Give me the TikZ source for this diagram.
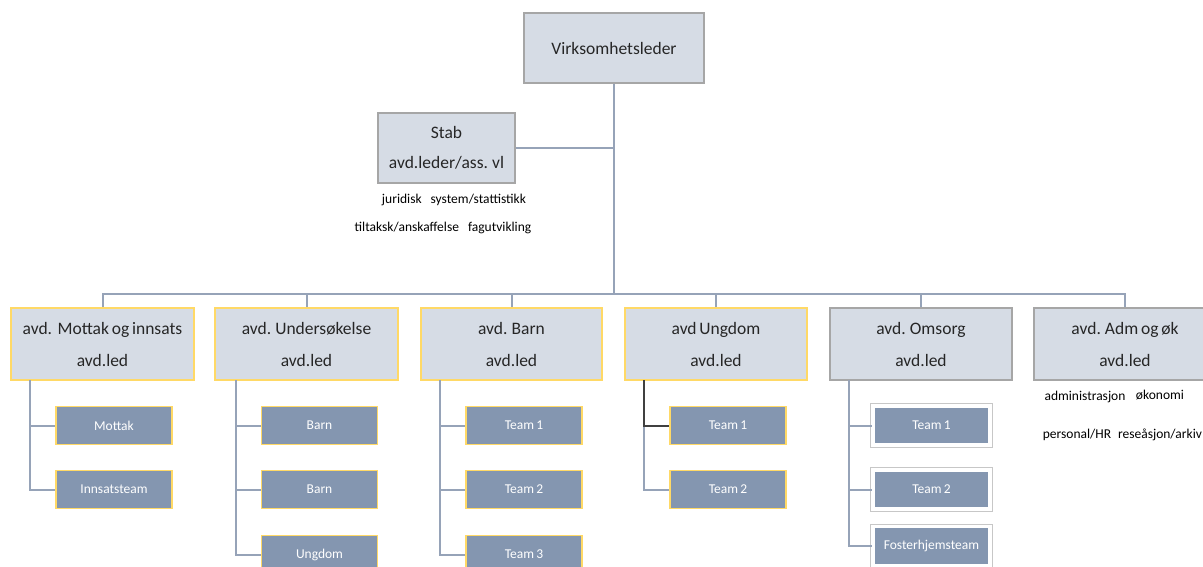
\documentclass[tikz,border=0pt]{standalone}
\usepackage{fontspec}
\setmainfont{Carlito}[WordSpace=0.7]
\definecolor{boxfill}{RGB}{214,220,229}
\definecolor{boxgray}{RGB}{166,166,166}
\definecolor{gold}{RGB}{255,217,102}
\definecolor{slate}{RGB}{132,150,176}
\definecolor{conn}{RGB}{150,163,184}
\definecolor{txt}{RGB}{38,38,38}
\begin{document}
\begin{tikzpicture}[x=1pt,y=-1pt,
  topbox/.style={draw=boxgray, line width=1.2pt, fill=boxfill, text=txt, inner sep=0pt, align=center, font=\fontsize{17.5}{30}\selectfont},
  deptbox/.style={draw=gold, line width=1.8pt, fill=boxfill, text=txt, inner sep=0pt, align=center, minimum height=72pt, font=\fontsize{17.5}{32}\selectfont},
  deptgray/.style={deptbox, draw=boxgray, line width=1.2pt},
  teambox/.style={draw=gold, line width=1.8pt, fill=slate, text=white, inner sep=0pt, minimum width=116pt, minimum height=38pt, font=\fontsize{13.5}{15}\selectfont},
  teamwhite/.style={teambox, draw=white, line width=2.4pt},
  note/.style={text=black, inner sep=0pt, font=\fontsize{13.5}{15}\selectfont},
  link/.style={draw=conn, line width=2pt}
]
\useasboundingbox (0,0) rectangle (1203,567);

% top level
\node[topbox, minimum width=180pt, minimum height=70pt] (vl) at (614,48) {Virksomhetsleder};
\node[topbox, minimum width=137pt, minimum height=70pt] (stab) at (446.5,148) {Stab\\avd.leder/ass. vl};
\node[note] (stabn1) at (454,200) {juridisk\hspace{9pt}system/stattistikk};
\node[note] (stabn2) at (443,228) {tiltaksk/anskaffelse\hspace{9pt}fagutvikling};

% departments
\node[deptbox, minimum width=183pt] (m1) at (102.5,344) {avd.\ \ Mottak og innsats\\avd.led};
\node[deptbox, minimum width=183pt] (m2) at (306.5,344) {avd. Undersøkelse\\avd.led};
\node[deptbox, minimum width=181pt] (m3) at (511.5,344) {avd. Barn\\avd.led};
\node[deptbox, minimum width=182pt] (m4) at (716,344) {avd Ungdom\\avd.led};
\node[deptgray, minimum width=182pt] (m5) at (921,344) {avd. Omsorg\\avd.led};
\node[deptgray, minimum width=182pt] (m6) at (1125,344) {avd. Adm og øk\\avd.led};

\node[note] (admn1) at (1085,397) {administrasjon};
\node[note] (admn2) at (1160,395) {økonomi};
\node[note] (admn3) at (1077,435) {personal/HR};
\node[note] (admn4) at (1160,435) {reseåsjon/arkiv};

% teams
\node[teambox] (c11) at (114,425.5) {Mottak};
\node[teambox] (c12) at (114,489.5) {Innsatsteam};
\node[teambox] (c21) at (319.5,425.5) {Barn};
\node[teambox] (c22) at (319.5,489.5) {Barn};
\node[teambox] (c23) at (319.5,554.5) {Ungdom};
\node[teambox] (c31) at (524,425.5) {Team 1};
\node[teambox] (c32) at (524,489.5) {Team 2};
\node[teambox] (c33) at (524,554.5) {Team 3};
\node[teambox] (c41) at (728,425.5) {Team 1};
\node[teambox] (c42) at (728,489.5) {Team 2};
\node[teamwhite] (c51) at (931.5,425.5) {Team 1};
\node[teamwhite] (c52) at (931.5,489.5) {Team 2};
\node[teamwhite] (c53) at (931.5,546) {Fosterhjemsteam};
\foreach \n in {c51,c52,c53}{
  \draw[black!22, line width=0.6pt] ([xshift=-1.6pt,yshift=-1.6pt]\n.south west) rectangle ([xshift=1.6pt,yshift=1.6pt]\n.north east);
}

% connectors
\coordinate (bar) at (614,294);
\draw[link] (vl.south) -- (bar);
\draw[link] (stab.east) -- (stab.east -| vl.south);
\draw[link] (m1.north) -- (m1.north |- bar) -- (m6.north |- bar) -- (m6.north);
\foreach \m in {m2,m3,m4,m5}{
  \draw[link] (\m.north) -- (\m.north |- bar);
}

\coordinate (sp1) at (30,380);
\coordinate (sp2) at (236,380);
\coordinate (sp3) at (440,380);
\coordinate (sp4) at (644,380);
\coordinate (sp5) at (849,380);

\draw[link] (sp1) |- (c12.west);
\draw[link] (sp1 |- c11.west) -- (c11.west);
\draw[link] (sp2) |- (c23.west);
\draw[link] (sp2 |- c21.west) -- (c21.west);
\draw[link] (sp2 |- c22.west) -- (c22.west);
\draw[link] (sp3) |- (c33.west);
\draw[link] (sp3 |- c31.west) -- (c31.west);
\draw[link] (sp3 |- c32.west) -- (c32.west);
\draw[link] (sp4) |- (c42.west);
\draw[link, draw=black!75] (sp4) -- (sp4 |- c41.west) -- (c41.west);
\draw[link] (sp5) |- (c53.west);
\draw[link] (sp5 |- c51.west) -- (c51.west);
\draw[link] (sp5 |- c52.west) -- (c52.west);
\end{tikzpicture}
\end{document}
